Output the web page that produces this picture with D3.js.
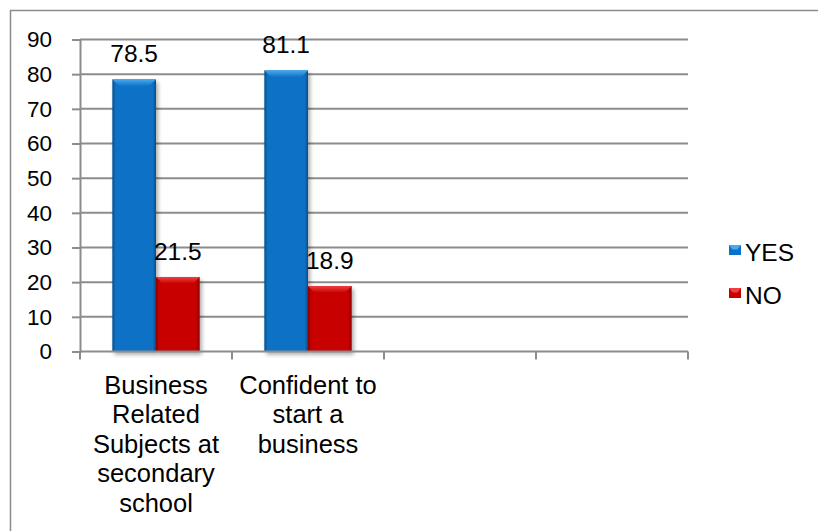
<!DOCTYPE html>
<html>
<head>
<meta charset="utf-8">
<script src="https://cdn.jsdelivr.net/npm/d3@7"></script>
<style>
  html, body { margin: 0; padding: 0; background: #fff; }
  svg { display: block; font-family: "Liberation Sans", Arial, sans-serif; }
</style>
</head>
<body>
<svg id="chart" width="818" height="531"></svg>
<script>
// Survey answers (percent)
const categories = [
  ["Business", "Related", "Subjects at", "secondary", "school"],
  ["Confident to", "start a", "business"],
  [],
  []
];
const seriesNames = ["YES", "NO"];
const yesValues = [78.5, 81.1];
const noValues = [21.5, 18.9];
const yTicks = [0, 10, 20, 30, 40, 50, 60, 70, 80, 90];

const seriesColors = {
  YES: { base: "#0a72c6", light: "#4aa8ec", dark: "#05508f" },
  NO:  { base: "#c80000", light: "#ee4040", dark: "#8c0000" }
};

const FONT = "Liberation Sans, Arial, sans-serif";
const svg = d3.select("#chart");

// outer frame
svg.append("rect")
  .attr("x", 10.5).attr("y", 10.5)
  .attr("width", 830).attr("height", 540)
  .attr("fill", "none").attr("stroke", "#8c8c8c").attr("stroke-width", 1.5);

const plot = { left: 80, right: 688, top: 39.5, bottom: 351.5 };

const x = d3.scaleBand()
  .domain(d3.range(categories.length))
  .range([plot.left, plot.right])
  .paddingInner(0).paddingOuter(0);

const y = d3.scaleLinear().domain([0, 90]).range([plot.bottom, plot.top]);

const inner = d3.scaleBand().domain(seriesNames).range([0, x.bandwidth()]).paddingOuter(0.74).paddingInner(0);

// gridlines
svg.append("g").selectAll("line")
  .data(yTicks.filter(d => d > 0))
  .join("line")
  .attr("x1", plot.left).attr("x2", plot.right)
  .attr("y1", d => y(d)).attr("y2", d => y(d))
  .attr("stroke", "#8c8c8c").attr("stroke-width", 2);

// y axis
const yAxis = d3.axisLeft(y).tickValues(yTicks).tickSize(8).tickPadding(20).tickFormat(d3.format("d"));
const gy = svg.append("g").attr("transform", `translate(${plot.left},0)`).call(yAxis);
gy.attr("font-family", FONT).attr("font-size", 22.5);
gy.select(".domain").attr("stroke", "#8c8c8c").attr("stroke-width", 2);
gy.selectAll(".tick line").attr("stroke", "#8c8c8c").attr("stroke-width", 2);
gy.selectAll(".tick text").attr("fill", "#000");

// defs: shadow + gradients
const defs = svg.append("defs");
const f = defs.append("filter").attr("id", "shadow").attr("x", "-20%").attr("y", "-10%").attr("width", "150%").attr("height", "130%");
f.append("feGaussianBlur").attr("in", "SourceAlpha").attr("stdDeviation", 2);
f.append("feOffset").attr("dx", 2).attr("dy", 3).attr("result", "ob");
f.append("feComponentTransfer").append("feFuncA").attr("type", "linear").attr("slope", 0.35);
const m = f.append("feMerge");
m.append("feMergeNode");
m.append("feMergeNode").attr("in", "SourceGraphic");

seriesNames.forEach(s => {
  const c = seriesColors[s];
  const g = defs.append("linearGradient").attr("id", "grad-" + s).attr("x1", 0).attr("x2", 1).attr("y1", 0).attr("y2", 0);
  g.append("stop").attr("offset", "0%").attr("stop-color", c.dark);
  g.append("stop").attr("offset", "8%").attr("stop-color", c.base);
  g.append("stop").attr("offset", "92%").attr("stop-color", c.base);
  g.append("stop").attr("offset", "100%").attr("stop-color", c.dark);
  const t = defs.append("linearGradient").attr("id", "top-" + s).attr("x1", 0).attr("x2", 0).attr("y1", 0).attr("y2", 1);
  t.append("stop").attr("offset", "0%").attr("stop-color", c.light);
  t.append("stop").attr("offset", "100%").attr("stop-color", c.base);
});

// bars
const rows = [];
yesValues.forEach((v, i) => rows.push({ cat: i, s: "YES", v }));
noValues.forEach((v, i) => rows.push({ cat: i, s: "NO", v }));

const bars = svg.append("g").selectAll("g").data(rows).join("g")
  .attr("filter", "url(#shadow)");

bars.append("rect")
  .attr("x", d => x(d.cat) + inner(d.s))
  .attr("y", d => y(d.v))
  .attr("width", inner.bandwidth())
  .attr("height", d => y(0) - y(d.v))
  .attr("fill", d => `url(#grad-${d.s})`);

// bevelled top face
bars.append("path")
  .attr("d", d => {
    const x0 = x(d.cat) + inner(d.s), x1 = x0 + inner.bandwidth(), t = y(d.v), b = 7;
    return `M${x0},${t}L${x1},${t}L${x1 - b},${t + b}L${x0 + b},${t + b}Z`;
  })
  .attr("fill", d => `url(#top-${d.s})`);

// value labels
svg.append("g").attr("font-family", FONT).selectAll("text").data(rows).join("text")
  .attr("x", d => x(d.cat) + inner(d.s) + inner.bandwidth() / 2)
  .attr("y", d => y(d.v) - 17)
  .attr("text-anchor", "middle")
  .attr("font-size", 24.5)
  .attr("fill", "#000")
  .text(d => d.v.toFixed(1));

// x axis
const gx = svg.append("g").attr("transform", `translate(0,${plot.bottom})`).attr("font-family", FONT);
gx.append("line").attr("x1", plot.left).attr("x2", plot.right)
  .attr("stroke", "#8c8c8c").attr("stroke-width", 2);
gx.selectAll("line.tick").data(d3.range(categories.length + 1)).join("line")
  .attr("class", "tick")
  .attr("x1", i => plot.left + i * x.bandwidth()).attr("x2", i => plot.left + i * x.bandwidth())
  .attr("y1", 0).attr("y2", 8)
  .attr("stroke", "#8c8c8c").attr("stroke-width", 2);

const catLabels = gx.selectAll("text.cat").data(categories).join("text")
  .attr("class", "cat")
  .attr("text-anchor", "middle")
  .attr("font-size", 25.5)
  .attr("fill", "#000");
catLabels.each(function(lines, i) {
  d3.select(this).selectAll("tspan").data(lines).join("tspan")
    .attr("x", x(i) + x.bandwidth() / 2)
    .attr("y", (d, k) => 42 + k * 29.5)
    .text(d => d);
});

// legend
const legend = svg.append("g").attr("transform", "translate(729,0)").attr("font-family", FONT);
const legendY = [250, 293];
seriesNames.forEach((s, i) => {
  const c = seriesColors[s];
  const g = legend.append("g").attr("transform", `translate(0,${legendY[i]})`);
  g.append("rect").attr("x", 0).attr("y", -5).attr("width", 12).attr("height", 10).attr("fill", c.base);
  g.append("path").attr("d", "M0,-5L12,-5L8.5,-0.5L3.5,-0.5Z").attr("fill", c.light);
  g.append("text").attr("x", 16).attr("y", 11).attr("font-size", 24.5).attr("fill", "#000").text(s);
});
</script>
</body>
</html>
